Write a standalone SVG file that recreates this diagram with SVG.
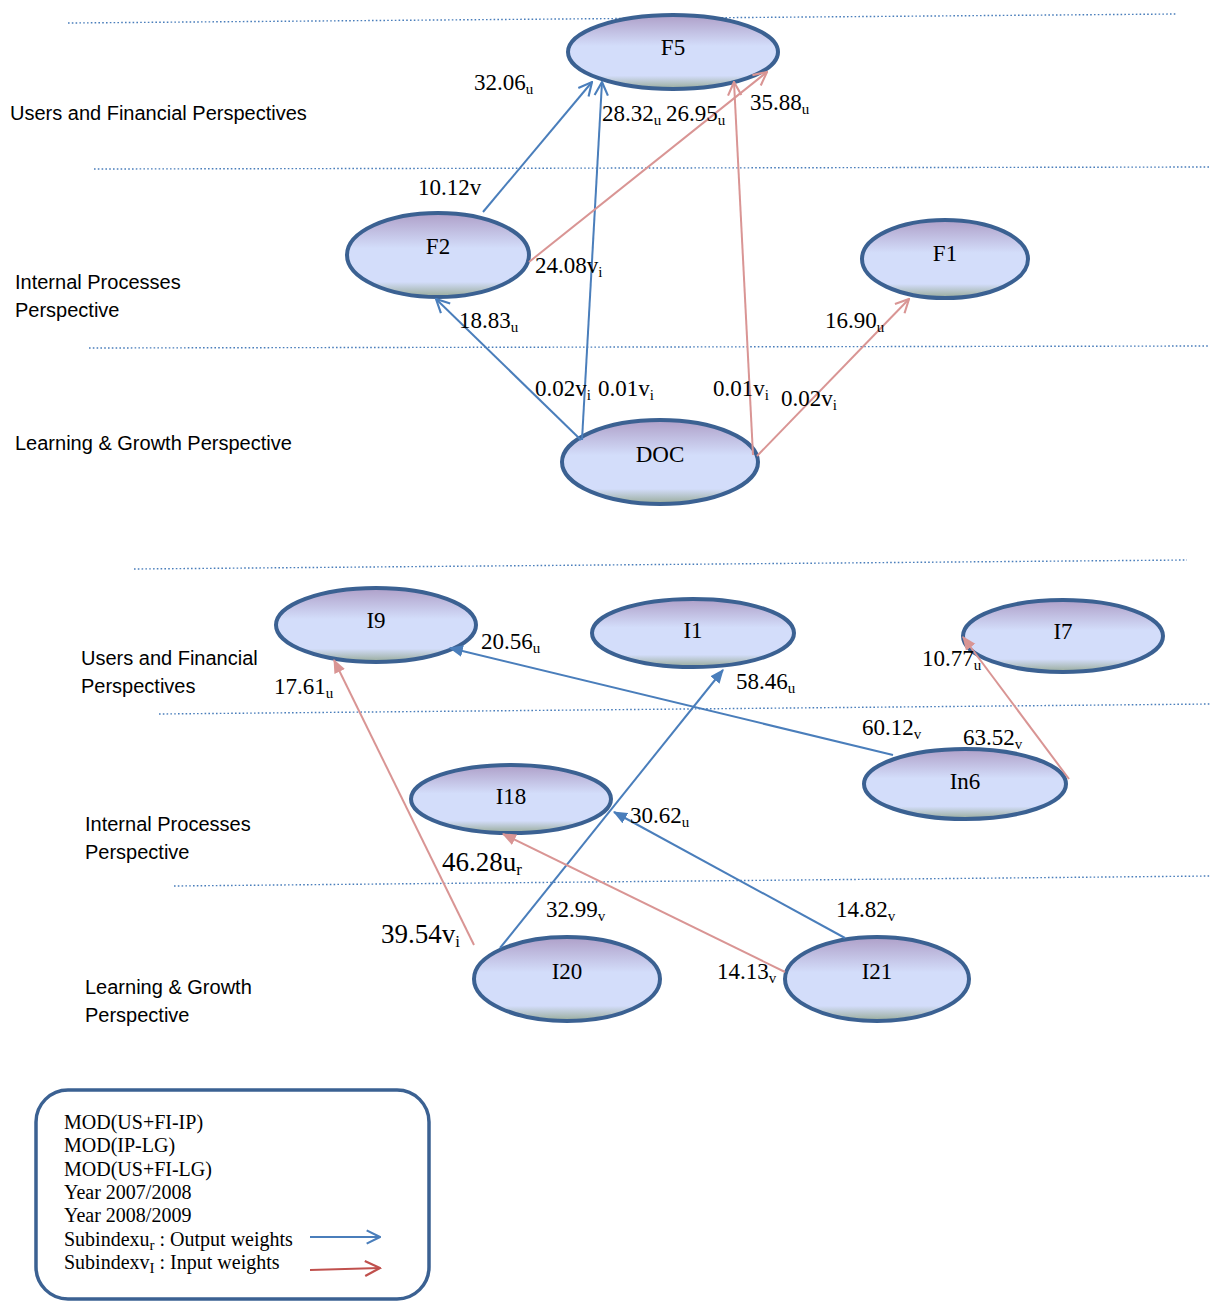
<svg xmlns="http://www.w3.org/2000/svg" width="1211" height="1301" viewBox="0 0 1211 1301">
<style>
.bg{fill:#ffffff}
.sep{stroke:#4a7ebb;stroke-width:1.4;stroke-dasharray:1.6 2.2;fill:none}
.node{fill:url(#ng);stroke:#3b6192;stroke-width:4}
.nl{font-family:"Liberation Serif","Times New Roman",serif;font-size:23px;fill:#000;text-anchor:middle}
.lab{font-family:"Liberation Serif","Times New Roman",serif;font-size:23px;fill:#000}
.big{font-size:27px}
.sub{font-size:15px}
.persp{font-family:"Liberation Sans",Arial,sans-serif;font-size:20px;fill:#000}
.leg{font-family:"Liberation Serif","Times New Roman",serif;font-size:20px;fill:#000}
.b{stroke:#4a7ebb;stroke-width:2;fill:none}
.p{stroke:#d99594;stroke-width:2;fill:none}
.r{stroke:#c0504d;stroke-width:2;fill:none}
</style>
<defs>
<linearGradient id="ng" x1="0" y1="0" x2="0" y2="1">
<stop offset="0" stop-color="#ae9fc8"/>
<stop offset="0.42" stop-color="#d3ddfa"/>
<stop offset="0.82" stop-color="#d3ddfa"/>
<stop offset="1" stop-color="#97aa98"/>
</linearGradient>
<marker id="ob" viewBox="0 0 12 12" refX="11" refY="6" markerWidth="16" markerHeight="16" markerUnits="userSpaceOnUse" orient="auto"><path d="M1,1 L11,6 L1,11" fill="none" stroke="#4a7ebb" stroke-width="1.6"/></marker>
<marker id="op" viewBox="0 0 12 12" refX="11" refY="6" markerWidth="16" markerHeight="16" markerUnits="userSpaceOnUse" orient="auto"><path d="M1,1 L11,6 L1,11" fill="none" stroke="#d99594" stroke-width="1.6"/></marker>
<marker id="or" viewBox="0 0 12 12" refX="11" refY="6" markerWidth="18" markerHeight="18" markerUnits="userSpaceOnUse" orient="auto"><path d="M1,1 L11,6 L1,11" fill="none" stroke="#c0504d" stroke-width="1.5"/></marker>
<marker id="fb" viewBox="0 0 12 12" refX="11" refY="6" markerWidth="14" markerHeight="14" markerUnits="userSpaceOnUse" orient="auto"><path d="M0,1 L12,6 L0,11 z" fill="#4a7ebb"/></marker>
<marker id="fp" viewBox="0 0 12 12" refX="11" refY="6" markerWidth="14" markerHeight="14" markerUnits="userSpaceOnUse" orient="auto"><path d="M0,1 L12,6 L0,11 z" fill="#d99594"/></marker>
</defs>
<rect class="bg" x="0" y="0" width="1211" height="1301"/>

<g id="separators">
<line class="sep" x1="68" y1="23" x2="1177" y2="14"/>
<line class="sep" x1="94" y1="169" x2="1211" y2="167"/>
<line class="sep" x1="89" y1="348" x2="1209" y2="346"/>
<line class="sep" x1="134" y1="569" x2="1187" y2="560"/>
<line class="sep" x1="159" y1="714" x2="1211" y2="704"/>
<line class="sep" x1="174" y1="886" x2="1211" y2="876"/>
</g>

<g id="perspective-labels">
<text class="persp" x="10" y="120">Users and Financial Perspectives</text>
<text class="persp" x="15" y="289">Internal Processes</text>
<text class="persp" x="15" y="317">Perspective</text>
<text class="persp" x="15" y="450">Learning &amp; Growth Perspective</text>
<text class="persp" x="81" y="665">Users and Financial</text>
<text class="persp" x="81" y="693">Perspectives</text>
<text class="persp" x="85" y="831">Internal Processes</text>
<text class="persp" x="85" y="859">Perspective</text>
<text class="persp" x="85" y="994">Learning &amp; Growth</text>
<text class="persp" x="85" y="1022">Perspective</text>
</g>

<g id="node-F5"><ellipse class="node" cx="673" cy="52" rx="105" ry="37"/><text class="nl" x="673" y="55">F5</text></g>
<g id="node-F2"><ellipse class="node" cx="438" cy="255" rx="91" ry="42"/><text class="nl" x="438" y="254">F2</text></g>
<g id="node-F1"><ellipse class="node" cx="945" cy="259" rx="83" ry="39"/><text class="nl" x="945" y="261">F1</text></g>
<g id="node-DOC"><ellipse class="node" cx="660" cy="462" rx="98" ry="42"/><text class="nl" x="660" y="462">DOC</text></g>
<g id="node-I9"><ellipse class="node" cx="376" cy="625" rx="100" ry="37"/><text class="nl" x="376" y="628">I9</text></g>
<g id="node-I1"><ellipse class="node" cx="693" cy="633" rx="101" ry="34"/><text class="nl" x="693" y="638">I1</text></g>
<g id="node-I7"><ellipse class="node" cx="1063" cy="636" rx="100" ry="36"/><text class="nl" x="1063" y="639">I7</text></g>
<g id="node-In6"><ellipse class="node" cx="965" cy="784" rx="101" ry="35"/><text class="nl" x="965" y="789">In6</text></g>
<g id="node-I18"><ellipse class="node" cx="511" cy="799" rx="100" ry="34"/><text class="nl" x="511" y="804">I18</text></g>
<g id="node-I20"><ellipse class="node" cx="567" cy="979" rx="93" ry="42"/><text class="nl" x="567" y="979">I20</text></g>
<g id="node-I21"><ellipse class="node" cx="877" cy="979" rx="92" ry="42"/><text class="nl" x="877" y="979">I21</text></g>

<g id="connectors">
<line class="b" x1="483" y1="212" x2="592" y2="82" marker-end="url(#ob)"/>
<line class="b" x1="582" y1="440" x2="602" y2="82" marker-end="url(#ob)"/>
<line class="p" x1="529" y1="262" x2="767" y2="72" marker-end="url(#op)"/>
<line class="p" x1="753" y1="455" x2="734" y2="82" marker-end="url(#op)"/>
<line class="b" x1="581" y1="440" x2="436" y2="299" marker-end="url(#ob)"/>
<line class="p" x1="757" y1="456" x2="909" y2="299" marker-end="url(#op)"/>
<line class="b" x1="893" y1="755" x2="450" y2="648" marker-end="url(#fb)"/>
<line class="b" x1="500" y1="948" x2="723" y2="670" marker-end="url(#fb)"/>
<line class="b" x1="845" y1="938" x2="614" y2="812" marker-end="url(#fb)"/>
<line class="p" x1="785" y1="972" x2="503" y2="834" marker-end="url(#fp)"/>
<line class="p" x1="474" y1="945" x2="334" y2="660" marker-end="url(#fp)"/>
<line class="p" x1="1069" y1="779" x2="963" y2="637" marker-end="url(#fp)"/>
</g>

<g id="edge-labels">
<text class="lab" x="474" y="90">32.06<tspan class="sub" dy="4">u</tspan></text>
<text class="lab" x="602" y="121">28.32<tspan class="sub" dy="4">u</tspan></text>
<text class="lab" x="666" y="121">26.95<tspan class="sub" dy="4">u</tspan></text>
<text class="lab" x="750" y="110">35.88<tspan class="sub" dy="4">u</tspan></text>
<text class="lab" x="418" y="195">10.12v</text>
<text class="lab" x="535" y="273">24.08v<tspan class="sub" dy="4">i</tspan></text>
<text class="lab" x="459" y="328">18.83<tspan class="sub" dy="4">u</tspan></text>
<text class="lab" x="825" y="328">16.90<tspan class="sub" dy="4">u</tspan></text>
<text class="lab" x="535" y="396">0.02v<tspan class="sub" dy="4">i</tspan></text>
<text class="lab" x="598" y="396">0.01v<tspan class="sub" dy="4">i</tspan></text>
<text class="lab" x="713" y="396">0.01v<tspan class="sub" dy="4">i</tspan></text>
<text class="lab" x="781" y="406">0.02v<tspan class="sub" dy="4">i</tspan></text>
<text class="lab" x="481" y="649">20.56<tspan class="sub" dy="4">u</tspan></text>
<text class="lab" x="736" y="689">58.46<tspan class="sub" dy="4">u</tspan></text>
<text class="lab" x="274" y="694">17.61<tspan class="sub" dy="4">u</tspan></text>
<text class="lab" x="922" y="666">10.77<tspan class="sub" dy="4">u</tspan></text>
<text class="lab" x="862" y="735">60.12<tspan class="sub" dy="4">v</tspan></text>
<text class="lab" x="963" y="745">63.52<tspan class="sub" dy="4">v</tspan></text>
<text class="lab" x="630" y="823">30.62<tspan class="sub" dy="4">u</tspan></text>
<text class="lab big" x="442" y="871">46.28u<tspan class="sub" dy="4" style="font-size:17px">r</tspan></text>
<text class="lab" x="546" y="917">32.99<tspan class="sub" dy="4">v</tspan></text>
<text class="lab" x="836" y="917">14.82<tspan class="sub" dy="4">v</tspan></text>
<text class="lab big" x="381" y="943">39.54v<tspan class="sub" dy="4" style="font-size:17px">i</tspan></text>
<text class="lab" x="717" y="979">14.13<tspan class="sub" dy="4">v</tspan></text>
</g>

<g id="legend">
<rect x="36" y="1090" width="393" height="209" rx="32" ry="32" fill="none" stroke="#3b6192" stroke-width="3.5"/>
<text class="leg" x="64" y="1129">MOD(US+FI-IP)</text>
<text class="leg" x="64" y="1152">MOD(IP-LG)</text>
<text class="leg" x="64" y="1176">MOD(US+FI-LG)</text>
<text class="leg" x="64" y="1199">Year 2007/2008</text>
<text class="leg" x="64" y="1222">Year 2008/2009</text>
<text class="leg" x="64" y="1246">Subindexu<tspan class="sub" dy="4">r</tspan><tspan dy="-4"> : Output weights</tspan></text>
<text class="leg" x="64" y="1269">Subindexv<tspan class="sub" dy="4">I</tspan><tspan dy="-4"> : Input weights</tspan></text>
<line class="b" x1="310" y1="1237" x2="380" y2="1237" marker-end="url(#ob)"/>
<line class="r" x1="310" y1="1270" x2="380" y2="1268" marker-end="url(#or)"/>
</g>
</svg>
